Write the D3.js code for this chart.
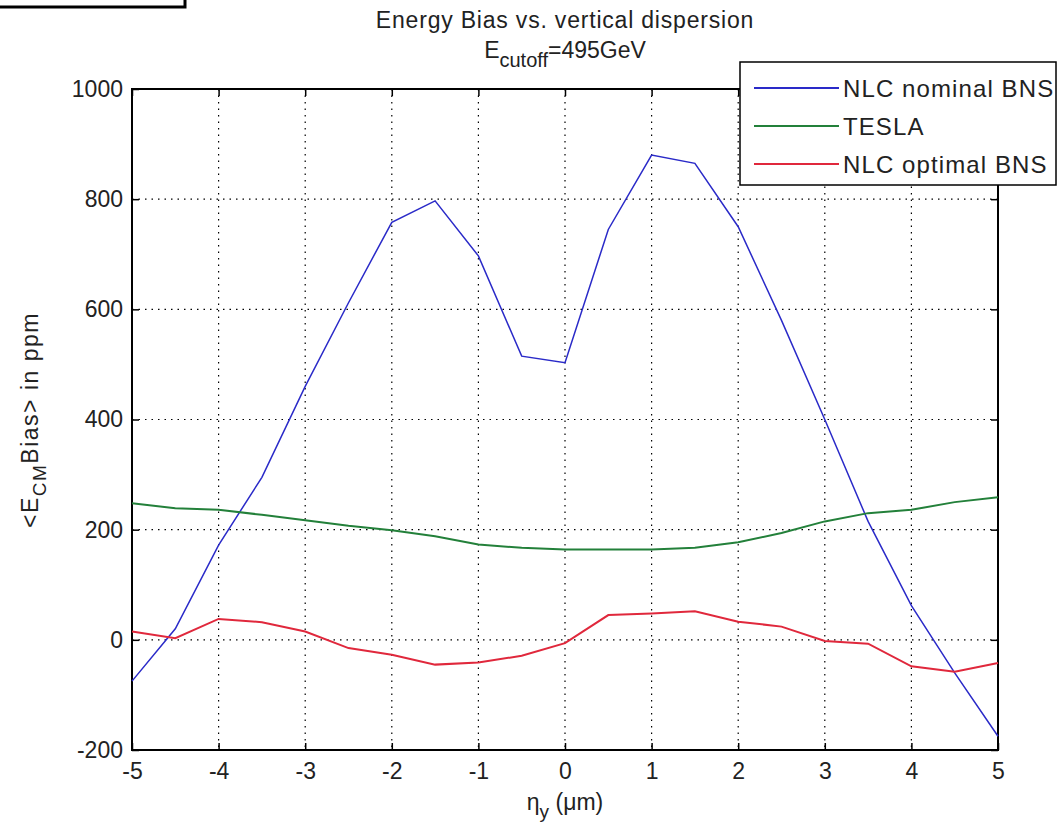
<!DOCTYPE html>
<html>
<head>
<meta charset="utf-8">
<script src="https://cdn.jsdelivr.net/npm/d3@7"></script>
<style>
  body { margin: 0; background: #fff; }
  svg { display: block; font-family: "Liberation Sans", Arial, sans-serif; }
</style>
</head>
<body>
<div id="chart"></div>
<script>
// eta_y values (um)
const etaY = [-5, -4.5, -4, -3.5, -3, -2.5, -2, -1.5, -1, -0.5, 0, 0.5, 1, 1.5, 2, 2.5, 3, 3.5, 4, 4.5, 5];
// <E_CM Bias> in ppm
const nlcNominal = [-75, 20, 172, 295, 460, 612, 758, 797, 697, 515, 503, 745, 880, 865, 750, 580, 400, 215, 62, -60, -175];
const tesla = [248, 239, 236, 227, 217, 207, 199, 188, 173, 167, 164, 164, 164, 167, 177, 194, 215, 230, 236, 250, 259];
const nlcOptimal = [15, 3, 38, 32, 15, -15, -27, -45, -41, -29, -6, 45, 48, 52, 33, 24, -2, -7, -48, -58, -42];
const seriesNames = ["NLC nominal BNS", "TESLA", "NLC optimal BNS"];
const xTicks = [-5, -4, -3, -2, -1, 0, 1, 2, 3, 4, 5];
const yTicks = [-200, 0, 200, 400, 600, 800, 1000];

const W = 1060, H = 835;
const margin = {top: 89, right: 62, bottom: 85, left: 132};
const width = W - margin.left - margin.right;
const height = H - margin.top - margin.bottom;

const svg = d3.select("#chart").append("svg")
    .attr("width", W)
    .attr("height", H);

// odd clipped box in the top-left corner
svg.append("rect")
    .attr("x", -10).attr("y", -10)
    .attr("width", 195).attr("height", 17)
    .attr("fill", "#fff").attr("stroke", "#000").attr("stroke-width", 3);

const g = svg.append("g")
    .attr("transform", `translate(${margin.left},${margin.top})`);

const x = d3.scaleLinear().domain([-5, 5]).range([0, width]);
const y = d3.scaleLinear().domain([-200, 1000]).range([height, 0]);

// dotted grid
g.append("g").selectAll("line")
    .data(xTicks.slice(1, -1))
    .join("line")
    .attr("x1", d => x(d)).attr("x2", d => x(d))
    .attr("y1", 0).attr("y2", height)
    .attr("stroke", "#000").attr("stroke-width", 1.2)
    .attr("stroke-dasharray", "1.5,5");
g.append("g").selectAll("line")
    .data(yTicks.slice(1, -1))
    .join("line")
    .attr("x1", 0).attr("x2", width)
    .attr("y1", d => y(d)).attr("y2", d => y(d))
    .attr("stroke", "#000").attr("stroke-width", 1.2)
    .attr("stroke-dasharray", "1.5,5");

// axes, ticks inward like matlab, hyphen as minus
const fmt = d => String(d);
const tickFont = 23;
const styleAxis = sel => {
    sel.select(".domain").remove();
    sel.selectAll(".tick line").attr("stroke", "#000").attr("stroke-width", 1.5);
    sel.selectAll(".tick text").attr("font-size", tickFont).attr("fill", "#222")
        .attr("font-family", "Liberation Sans, Arial, sans-serif");
};

g.append("g")
    .attr("transform", `translate(0,${height})`)
    .call(d3.axisBottom(x).tickValues(xTicks).tickFormat(fmt).tickSizeInner(-7).tickPadding(13))
    .call(styleAxis);
g.append("g")
    .call(d3.axisTop(x).tickValues(xTicks).tickFormat("").tickSizeInner(-7))
    .call(styleAxis);
g.append("g")
    .call(d3.axisLeft(y).tickValues(yTicks).tickFormat(fmt).tickSizeInner(-7).tickPadding(9))
    .call(styleAxis);
g.append("g")
    .attr("transform", `translate(${width},0)`)
    .call(d3.axisRight(y).tickValues(yTicks).tickFormat("").tickSizeInner(-7))
    .call(styleAxis);

g.append("rect")
    .attr("width", width).attr("height", height)
    .attr("fill", "none").attr("stroke", "#000").attr("stroke-width", 2);

// the three series
const colors = ["#2a2ac8", "#23803a", "#e0283c"];
const allSeries = [nlcNominal, tesla, nlcOptimal];

const line = d3.line()
    .x((d, i) => x(etaY[i]))
    .y(d => y(d));

g.append("g").selectAll("path")
    .data(allSeries)
    .join("path")
    .attr("d", d => line(d))
    .attr("fill", "none")
    .attr("stroke", (d, i) => colors[i])
    .attr("stroke-width", (d, i) => i === 0 ? 1.5 : 2);

// title
const cx = margin.left + width / 2;
svg.append("text")
    .attr("x", cx).attr("y", 28)
    .attr("text-anchor", "middle")
    .attr("font-size", 23)
    .attr("letter-spacing", 0.8)
    .attr("fill", "#222")
    .text("Energy Bias vs. vertical dispersion");
const t2 = svg.append("text")
    .attr("x", cx)
    .attr("y", 58)
    .attr("text-anchor", "middle")
    .attr("font-size", 23)
    .attr("fill", "#222");
t2.append("tspan").text("E");
t2.append("tspan").attr("dy", 9).attr("font-size", 20).text("cutoff");
t2.append("tspan").attr("dy", -9).text("=495GeV");

// axis labels
const xl = svg.append("text")
    .attr("x", cx)
    .attr("y", 810)
    .attr("text-anchor", "middle")
    .attr("font-size", 23)
    .attr("fill", "#222");
xl.append("tspan").text("η");
xl.append("tspan").attr("dy", 8).attr("font-size", 19).text("y");
xl.append("tspan").attr("dy", -8).text(" (μm)");

const yl = svg.append("text")
    .attr("transform", "translate(38,420) rotate(-90)")
    .attr("text-anchor", "middle")
    .attr("font-size", 23)
    .attr("letter-spacing", 1.5)
    .attr("fill", "#222");
yl.append("tspan").text("<E");
yl.append("tspan").attr("dy", 8).attr("font-size", 19).text("CM");
yl.append("tspan").attr("dy", -8).text("Bias> in ppm");

// legend
const legend = svg.append("g").attr("transform", "translate(740,62)");
legend.append("rect")
    .attr("width", 316).attr("height", 123)
    .attr("fill", "#fff").attr("stroke", "#000").attr("stroke-width", 1.5);
const items = legend.selectAll("g.item")
    .data(seriesNames)
    .join("g")
    .attr("class", "item")
    .attr("transform", (d, i) => `translate(0,${26 + i * 38})`);
items.append("line")
    .attr("x1", 14).attr("x2", 99)
    .attr("stroke", (d, i) => colors[i])
    .attr("stroke-width", 1.8);
items.append("text")
    .attr("x", 103)
    .attr("dy", "0.36em")
    .attr("font-size", 24)
    .attr("letter-spacing", 1.1)
    .attr("fill", "#222")
    .text(d => d);
</script>
</body>
</html>
